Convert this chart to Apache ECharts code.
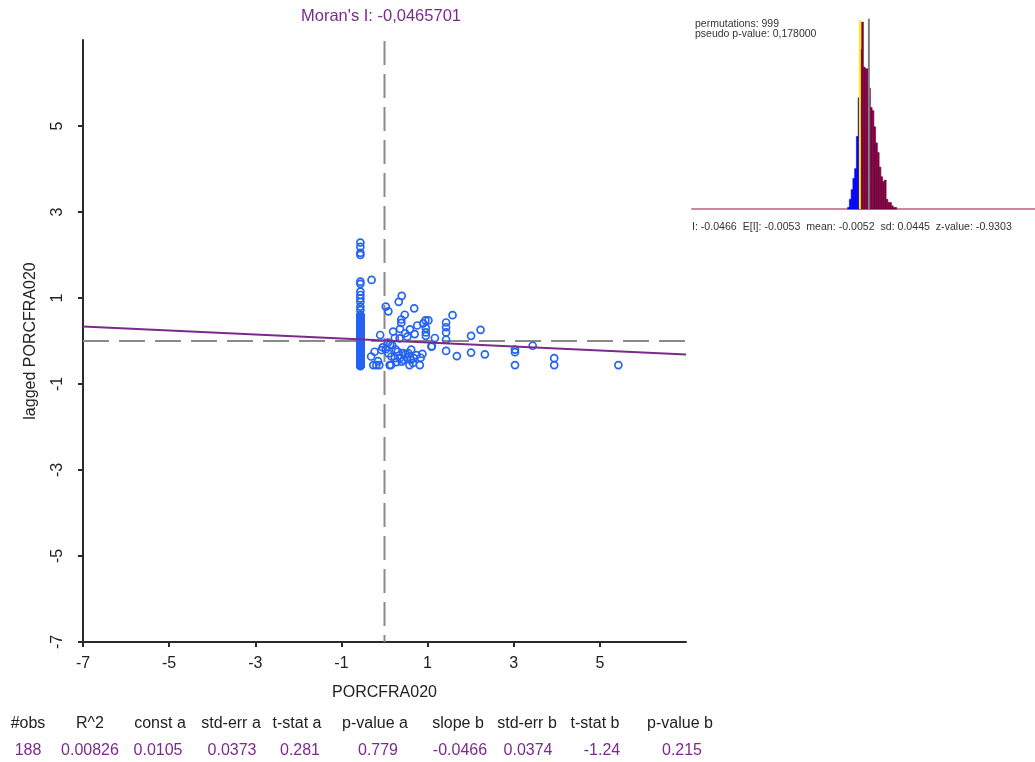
<!DOCTYPE html>
<html><head><meta charset="utf-8">
<script src="https://cdn.jsdelivr.net/npm/echarts@6/dist/echarts.min.js"></script>
<style>html,body{margin:0;padding:0;background:#fff}#c{width:1035px;height:762px}</style>
</head><body><div id="c"></div>
<script>
// ---------- data ----------
const moransI = -0.0465701;
const xTicks = [-7, -5, -3, -1, 1, 3, 5];
const yTicks = [-7, -5, -3, -1, 1, 3, 5];
const xName = 'PORCFRA020';
const yName = 'lagged PORCFRA020';

// observations with PORCFRA020 = 0 (standardized -0.56): their lagged values
const zeroX = -0.56;
const zeroColumnY = [2.29, 2.19, 2.05, 2.00, 1.38, 1.33, 1.15, 1.07, 0.99, 0.91, 0.80, 0.72,
  0.61, 0.60, 0.58, 0.57, 0.55, 0.54, 0.52, 0.50, 0.49, 0.47, 0.45, 0.44, 0.42, 0.40, 0.39, 0.37,
  0.35, 0.34, 0.32, 0.30, 0.29, 0.27, 0.25, 0.24, 0.22, 0.20, 0.19, 0.17, 0.15, 0.14, 0.12, 0.10,
  0.09, 0.07, 0.05, 0.04, 0.02, 0.00, -0.01, -0.03, -0.05, -0.06, -0.08, -0.10, -0.11, -0.13,
  -0.15, -0.16, -0.18, -0.20, -0.21, -0.23, -0.25, -0.26, -0.28, -0.30, -0.31, -0.33, -0.35,
  -0.36, -0.38, -0.40, -0.41, -0.43, -0.45, -0.46, -0.48, -0.50, -0.51, -0.53, -0.55, -0.56,
  -0.57, -0.58, -0.58, -0.58, -0.58, -0.57, -0.56, -0.52, -0.44, -0.37, -0.27, -0.17, -0.07,
  0.03, 0.13, 0.23, 0.33, 0.43, 0.53, 0.58];

// remaining observations [PORCFRA020, lagged PORCFRA020]
const otherPoints = [
  [-0.30, 1.42], [0.03, 0.80], [0.09, 0.69], [0.33, 0.91], [0.40, 1.05], [0.69, 0.76],
  [0.47, 0.61], [0.39, 0.50], [0.39, 0.42], [0.36, 0.28], [0.59, 0.27], [0.76, 0.36],
  [0.90, 0.41], [0.95, 0.48], [1.02, 0.48], [0.96, 0.30], [0.96, 0.20], [0.96, 0.12],
  [0.70, 0.16], [0.53, 0.10], [1.17, 0.07], [1.10, -0.12], [1.43, 0.43], [1.43, 0.32],
  [1.43, 0.20], [1.43, 0.03], [1.58, 0.60], [1.43, -0.23], [1.68, -0.35], [2.01, 0.12],
  [2.23, 0.26], [2.01, -0.27], [2.33, -0.31], [3.03, -0.20], [3.03, -0.26], [3.03, -0.56],
  [3.44, -0.11], [3.94, -0.40], [3.94, -0.56], [5.43, -0.56],
  [-0.10, 0.14], [0.24, 0.07], [0.35, 0.06], [0.08, -0.04], [0.13, -0.08], [0.18, -0.10],
  [-0.04, -0.15], [-0.07, -0.21], [0.03, -0.19], [-0.23, -0.25], [-0.31, -0.36], [-0.15, -0.47],
  [-0.26, -0.56], [-0.19, -0.56], [-0.12, -0.56], [0.12, -0.56], [0.15, -0.56], [0.09, -0.29],
  [0.16, -0.36], [0.24, -0.40], [0.31, -0.25], [0.43, -0.28], [0.49, -0.31], [0.55, -0.28],
  [0.45, -0.44], [0.61, -0.44], [0.66, -0.51], [0.58, -0.56], [0.82, -0.56], [0.74, -0.33],
  [0.84, -0.39], [0.36, -0.40], [0.40, -0.48], [0.52, -0.38], [0.28, -0.49], [0.68, -0.40],
  [0.88, -0.30], [0.62, -0.20], [1.09, -0.13], [0.20, 0.22], [0.48, 0.18], [0.26, -0.20]
];

// regression
const regConst = 0.0105;
const regSlope = -0.0466;

// statistics table
const statHeaders = ['#obs', 'R^2', 'const a', 'std-err a', 't-stat a', 'p-value a', 'slope b', 'std-err b', 't-stat b', 'p-value b'];
const statValues = ['188', '0.00826', '0.0105', '0.0373', '0.281', '0.779', '-0.0466', '0.0374', '-1.24', '0.215'];

// permutation histogram
const permutations = 999;
const pseudoP = '0,178000';
const histStart = -0.1030;
const histBinWidth = 0.00806;
const histCounts = [1, 6, 12, 19, 25, 45, 69, 99, 116, 88, 87, 87, 75, 63, 61, 51, 41, 35, 26, 20, 17, 18, 6, 4, 4, 2, 1, 1];
const permLabels = ['I', 'E[I]', 'mean', 'sd', 'z-value'];
const permValues = ['-0.0466', '-0.0053', '-0.0052', '0.0445', '-0.9303'];
const permMean = -0.0052;

// ---------- chart ----------
const FONT = '"Liberation Sans", Arial, sans-serif';
const PURPLE = '#7b2a8c';
const AXIS = '#2a2a2a';
const chart = echarts.init(document.getElementById('c'), null, { renderer: 'canvas' });

const scatterData = zeroColumnY.map(y => [zeroX, y]).concat(otherPoints);
const regLine = [[-7, regConst + regSlope * -7], [7, regConst + regSlope * 7]];
const histData = histCounts.map((c, i) => {
  const a = histStart + i * histBinWidth, b = a + histBinWidth;
  return [a, b, c, b <= moransI + 0.0005 ? 1 : 0];
});

const headerX = [28, 90, 160, 231, 297, 375, 458, 527, 595, 680];
const valueX = [28, 90, 158, 232, 300, 378, 460, 528, 602, 682];
const graphics = [];
statHeaders.forEach((t, i) => graphics.push({ type: 'text', x: headerX[i], y: 724,
  style: { text: t, fill: '#222', font: '16px ' + FONT, textAlign: 'center', textVerticalAlign: 'middle' } }));
statValues.forEach((t, i) => graphics.push({ type: 'text', x: valueX[i], y: 751,
  style: { text: t, fill: PURPLE, font: '16px ' + FONT, textAlign: 'center', textVerticalAlign: 'middle' } }));
graphics.push({ type: 'text', x: 695, y: 19, style: { text: 'permutations: ' + permutations + '\npseudo p-value: ' + pseudoP,
  fill: '#333', font: '10.5px ' + FONT, lineHeight: 10 } });
graphics.push({ type: 'text', x: 692, y: 227, style: {
  text: permLabels.map((l, i) => l + ': ' + permValues[i]).join('  '),
  fill: '#333', font: '10.6px ' + FONT, textVerticalAlign: 'middle' } });
graphics.push({ type: 'text', x: 381, y: 16, style: {
  text: "Moran's I: " + String(moransI).replace('.', ','), fill: PURPLE, font: '16.5px ' + FONT,
  textAlign: 'center', textVerticalAlign: 'middle' } });

chart.setOption({
  animation: false,
  backgroundColor: '#fff',
  grid: [
    { left: 83, top: 40, width: 603, height: 602 },
    { left: 692, top: 15.6, width: 343, height: 193.4 }
  ],
  xAxis: [
    { type: 'value', gridIndex: 0, min: -7, max: 7, interval: 2,
      name: xName, nameLocation: 'middle', nameGap: 43,
      nameTextStyle: { color: '#222', fontSize: 16, fontFamily: FONT },
      axisLine: { onZero: false, lineStyle: { color: AXIS, width: 2 } },
      axisTick: { show: true, length: 5, customValues: xTicks, lineStyle: { color: AXIS, width: 2 } },
      axisLabel: { customValues: xTicks, margin: 14, color: '#222', fontSize: 16, fontFamily: FONT },
      splitLine: { show: false } },
    { type: 'value', gridIndex: 1, min: -0.82, max: 0.76,
      axisLine: { onZero: false, lineStyle: { color: '#cc8899', width: 2 } },
      axisTick: { show: false }, axisLabel: { show: false }, splitLine: { show: false } }
  ],
  yAxis: [
    { type: 'value', gridIndex: 0, min: -7, max: 7, interval: 2,
      name: yName, nameLocation: 'middle', nameGap: 44,
      nameTextStyle: { color: '#222', fontSize: 16, fontFamily: FONT },
      axisLine: { onZero: false, lineStyle: { color: AXIS, width: 2 } },
      axisTick: { show: true, length: 5, customValues: yTicks, lineStyle: { color: AXIS, width: 2 } },
      axisLabel: { customValues: yTicks, rotate: 90, margin: 17, color: '#222', fontSize: 16, fontFamily: FONT },
      splitLine: { show: false } },
    { type: 'value', gridIndex: 1, min: 0, max: 120, show: false }
  ],
  series: [
    { type: 'line', xAxisIndex: 0, yAxisIndex: 0, data: [[0, -7], [0, 7]], symbol: 'none',
      lineStyle: { color: '#8a8a8a', width: 2, type: [24, 9], dashOffset: 17 }, z: 1, silent: true },
    { type: 'line', xAxisIndex: 0, yAxisIndex: 0, data: [[-7, 0], [7, 0]], symbol: 'none',
      lineStyle: { color: '#8a8a8a', width: 2, type: [26, 10] }, z: 1, silent: true },
    { type: 'scatter', xAxisIndex: 0, yAxisIndex: 0, data: scatterData, symbol: 'circle', symbolSize: 7,
      itemStyle: { color: 'rgba(255,255,255,0)', borderColor: '#2563f2', borderWidth: 1.7, opacity: 1 }, z: 2 },
    { type: 'line', xAxisIndex: 0, yAxisIndex: 0, data: regLine, symbol: 'none',
      lineStyle: { color: PURPLE, width: 2 }, z: 3, silent: true },
    { type: 'custom', xAxisIndex: 1, yAxisIndex: 1, data: histData, encode: { x: [0, 1], y: 2 },
      renderItem: (params, api) => {
        const p0 = api.coord([api.value(0), api.value(2)]);
        const p1 = api.coord([api.value(1), 0]);
        const col = api.value(3) ? '#0000ff' : '#7a0040';
        return { type: 'rect', shape: { x: p0[0], y: p0[1], width: p1[0] - p0[0], height: p1[1] - p0[1] },
          style: { fill: col, stroke: col, lineWidth: 0.6 } };
      }, z: 2 },
    { type: 'line', xAxisIndex: 1, yAxisIndex: 1, data: [[moransI, 0], [moransI, 117]], symbol: 'none',
      lineStyle: { color: '#ffee00', width: 2 }, z: 3, silent: true },
    { type: 'line', xAxisIndex: 1, yAxisIndex: 1, data: [[permMean, 0], [permMean, 118]], symbol: 'none',
      lineStyle: { color: '#808080', width: 2 }, z: 3, silent: true }
  ],
  graphic: graphics
});
</script></body></html>
